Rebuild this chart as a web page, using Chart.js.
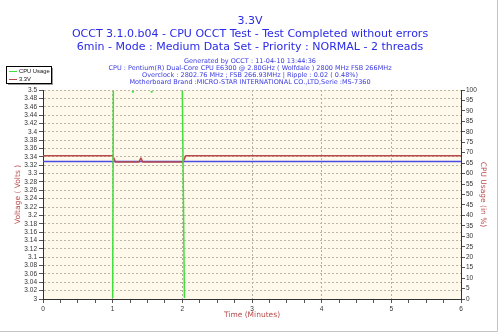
<!DOCTYPE html>
<html>
<head>
<meta charset="utf-8">
<title>OCCT 3.3V</title>
<script src="https://cdn.jsdelivr.net/npm/chart.js@4.4.0/dist/chart.umd.min.js"></script>
<style>
  html, body { margin: 0; padding: 0; background: #fff; }
  #wrap { width: 500px; height: 333px; }
</style>
</head>
<body>
<div id="wrap"><canvas id="graf" width="500" height="333"></canvas></div>
<script>
// CPU usage samples (minutes / %)
const cpuTime  = [0, 1.0, 1.01, 1.28, 1.29, 1.30, 1.55, 1.56, 1.57, 2.0, 2.03, 6];
const cpuUsage = [0, 0,   100,  100,  98.8, 100,  100,  98.8, 100,  100, 0,    0];

// 3.3V rail samples (minutes / volts)
const voltTime = [0, 1.0, 1.04, 1.38, 1.405, 1.43, 2.01, 2.05, 6];
const volt33   = [3.343, 3.343, 3.328, 3.328, 3.338, 3.328, 3.328, 3.343, 3.343];

// flat reference line
const refTime = [0, 6];
const refVolt = [3.329, 3.329];

const timeTicks = [0, 1, 2, 3, 4, 5, 6];

const titleLines = [
    "3.3V",
    "OCCT 3.1.0.b04 - CPU OCCT Test - Test Completed without errors",
    "6min - Mode : Medium Data Set - Priority : NORMAL - 2 threads"
];
const infoLines = [
    "Generated by OCCT : 11-04-10 13:44:36",
    "CPU : Pentium(R) Dual-Core CPU E6300 @ 2.80GHz ( Wolfdale ) 2800 MHz FSB 266MHz",
    "Overclock : 2802.76 MHz ; FSB 266.93MHz | Ripple : 0.02 ( 0.48%)",
    "Motherboard Brand :MICRO-STAR INTERNATIONAL CO.,LTD,Serie :MS-7360"
];

const COL_CPU = "#3ee03e";
const COL_VOLT = "#b84a4a";
const COL_REF = "#4b4be6";
const COL_AXIS_TITLE = "#b84a4a";
const TICK_FONT = { family: "'Liberation Sans', Arial, sans-serif", size: 6.5 };

const toPoints = (xs, ys) => xs.map((x, i) => ({ x: x, y: ys[i] }));

// cream fill behind the plot
const plotBackground = {
    id: "plotBackground",
    beforeDraw(chart) {
        const { ctx, chartArea: a } = chart;
        ctx.save();
        ctx.fillStyle = "#fef9ea";
        ctx.fillRect(a.left, a.top, a.right - a.left, a.bottom - a.top);
        ctx.restore();
    }
};

// header text, legend box, frame and bottom axis redraw
const decorations = {
    id: "decorations",
    afterDatasetsDraw(chart) {
        const { ctx, chartArea: a } = chart;
        ctx.save();
        ctx.strokeStyle = "#333";
        ctx.lineWidth = 1;
        ctx.beginPath();
        ctx.moveTo(a.left, Math.floor(a.bottom) + 0.5);
        ctx.lineTo(a.right + 1, Math.floor(a.bottom) + 0.5);
        ctx.stroke();
        ctx.restore();
    },
    afterDraw(chart) {
        const ctx = chart.ctx;
        ctx.save();
        ctx.textAlign = "center";
        ctx.textBaseline = "middle";

        ctx.fillStyle = "#2a2ae8";
        ctx.font = "11px 'DejaVu Sans', sans-serif";
        titleLines.forEach((t, i) => ctx.fillText(t, 250, 21.5 + i * 12.6));

        ctx.fillStyle = "#3a3ae0";
        ctx.font = "6.5px 'DejaVu Sans', sans-serif";
        infoLines.forEach((t, i) => ctx.fillText(t, 250, 61 + i * 7));

        // legend
        ctx.fillStyle = "#9a9a9a";
        ctx.fillRect(8, 68, 45, 17);
        ctx.fillStyle = "#fff";
        ctx.fillRect(6, 66, 45, 17);
        ctx.strokeStyle = "#000";
        ctx.lineWidth = 1;
        ctx.strokeRect(6.5, 66.5, 45, 17);

        const items = [["CPU Usage", COL_CPU], ["3.3V", COL_VOLT]];
        ctx.textAlign = "left";
        ctx.font = "5.8px 'Liberation Sans', Arial, sans-serif";
        items.forEach((it, i) => {
            const y = 71 + i * 8;
            ctx.strokeStyle = it[1];
            ctx.lineWidth = 1;
            ctx.beginPath();
            ctx.moveTo(9, y + 0.5);
            ctx.lineTo(17, y + 0.5);
            ctx.stroke();
            ctx.fillStyle = "#111";
            ctx.fillText(it[0], 19, y + 0.5);
        });

        // grey frame on the right and bottom edges
        ctx.strokeStyle = "#c4c4c4";
        ctx.beginPath();
        ctx.moveTo(497.5, 0);
        ctx.lineTo(497.5, 331.5);
        ctx.lineTo(0, 331.5);
        ctx.stroke();
        ctx.restore();
    }
};

const chart = new Chart(document.getElementById("graf"), {
    type: "line",
    data: {
        datasets: [
            {
                label: "CPU Usage",
                data: toPoints(cpuTime, cpuUsage),
                yAxisID: "y1",
                borderColor: COL_CPU,
                borderWidth: 1.5,
                borderJoinStyle: "bevel",
                clip: { left: 0, right: 0, top: -1, bottom: -1 }
            },
            {
                label: "3.3V",
                data: toPoints(voltTime, volt33),
                yAxisID: "y",
                borderColor: COL_VOLT,
                borderWidth: 1.5,
                borderJoinStyle: "bevel"
            },
            {
                label: "ref",
                data: toPoints(refTime, refVolt),
                yAxisID: "y",
                borderColor: COL_REF,
                borderWidth: 1.5
            }
        ]
    },
    options: {
        responsive: false,
        animation: false,
        devicePixelRatio: 1,
        layout: { padding: { top: 90, left: 0, right: 0, bottom: 0 } },
        elements: {
            point: { radius: 0 },
            line: { tension: 0, fill: false }
        },
        plugins: {
            legend: { display: false },
            tooltip: { enabled: false }
        },
        scales: {
            x: {
                type: "linear",
                min: timeTicks[0],
                max: timeTicks[timeTicks.length - 1],
                afterFit(s) { s.height = 34; },
                ticks: {
                    stepSize: 0.25,
                    autoSkip: false,
                    maxRotation: 0,
                    padding: 2,
                    color: "#333",
                    font: TICK_FONT,
                    callback: v => timeTicks.includes(v) ? String(v) : ""
                },
                grid: {
                    color: c => (c.tick && Number.isInteger(c.tick.value)) ? "#b9b0a0" : "rgba(0,0,0,0)",
                    tickColor: "#555",
                    tickLength: 4
                },
                border: { color: "#333", dash: [2, 2] },
                title: {
                    display: true,
                    text: "Time (Minutes)",
                    color: COL_AXIS_TITLE,
                    font: { family: "'DejaVu Sans', sans-serif", size: 7.5 },
                    padding: { top: 0, bottom: 13 }
                }
            },
            y: {
                position: "left",
                min: 3,
                max: 3.5,
                afterFit(s) { s.width = 43; },
                ticks: {
                    stepSize: 0.02,
                    autoSkip: false,
                    padding: 2,
                    color: "#333",
                    font: TICK_FONT,
                    callback: v => String(parseFloat(v.toFixed(2)))
                },
                grid: {
                    color: "#bdb4a3",
                    tickColor: "#555",
                    tickLength: 4
                },
                border: { color: "#333", dash: [2, 2] },
                title: {
                    display: true,
                    text: "Voltage ( Volts )",
                    color: COL_AXIS_TITLE,
                    font: { family: "'DejaVu Sans', sans-serif", size: 7.5 },
                    padding: { top: 14, bottom: 0 }
                }
            },
            y1: {
                position: "right",
                min: 0,
                max: 100,
                afterFit(s) { s.width = 39; },
                ticks: {
                    stepSize: 5,
                    autoSkip: false,
                    padding: 1,
                    color: "#333",
                    font: TICK_FONT
                },
                grid: {
                    drawOnChartArea: false,
                    tickColor: "#555",
                    tickLength: 4
                },
                border: { color: "#333" },
                title: {
                    display: true,
                    text: "CPU Usage (in %)",
                    color: COL_AXIS_TITLE,
                    font: { family: "'DejaVu Sans', sans-serif", size: 7.5 },
                    padding: { top: 13, bottom: 0 }
                }
            }
        }
    },
    plugins: [plotBackground, decorations]
});
</script>
</body>
</html>
